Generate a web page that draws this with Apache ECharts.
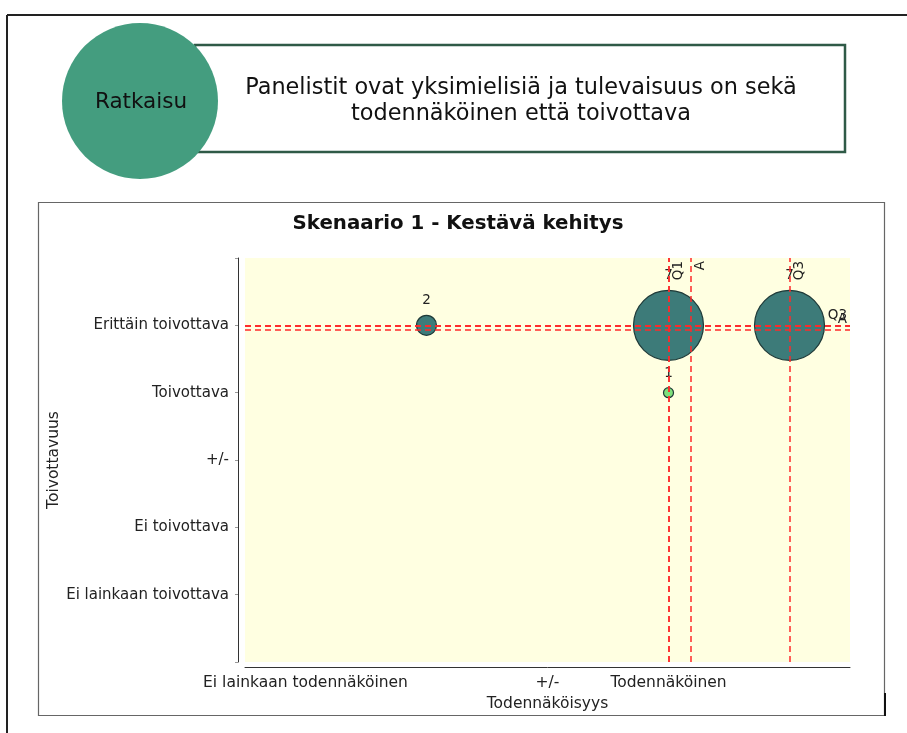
<!DOCTYPE html>
<html>
<head>
<meta charset="utf-8">
<title>Skenaario 1 - Kestävä kehitys</title>
<script src="https://cdn.jsdelivr.net/npm/echarts@6/dist/echarts.min.js"></script>
<style>
  html, body { margin: 0; padding: 0; background: #fff; }
  #chart { width: 907px; height: 733px; }
</style>
</head>
<body>
<div id="chart"></div>
<script>
// akselien luokat (tyhjä = piilotettu nimi)
var xLabels = ['Ei lainkaan todennäköinen', '', '+/-', 'Todennäköinen', ''];
var yLabels = ['Ei lainkaan toivottava', 'Ei toivottava', '+/-', 'Toivottava', 'Erittäin toivottava'];

// vastaukset: todennäköisyys, toivottavuus, lukumäärä
var answerX = [2, 4, 5, 4];
var answerY = [5, 5, 5, 4];
var answerCount = [2, 7, 7, 1];

// tunnusluvut (kvartiilit ja keskiarvo)
var statNames = ['Q1', 'Q2', 'Q3', 'A'];
var statX = [4, 4, 5, 4.18];
var statY = [5, 5, 5, 4.94];

var font = 'DejaVu Sans';

var bubbles = [];
for (var i = 0; i < answerX.length; i++) {
  bubbles.push([answerX[i], answerY[i], answerCount[i]]);
}

// päällekkäisistä viivoista näytetään vain yksi nimi
var lines = [];
for (var j = 0; j < statNames.length; j++) {
  var dupX = statX.indexOf(statX[j]) < j;
  var dupY = statY.lastIndexOf(statY[j]) > j;
  lines.push({ name: statNames[j], xAxis: statX[j], label: { show: !dupX, position: 'insideEndBottom' } });
  lines.push({ name: statNames[j], yAxis: statY[j], label: { show: !dupY, position: 'insideEndTop' } });
}

var chart = echarts.init(document.getElementById('chart'));

var option = {
  backgroundColor: '#fff',
  animation: false,
  title: {
    text: 'Skenaario 1 - Kestävä kehitys',
    left: 453,
    top: 209,
    textAlign: 'center',
    textStyle: { fontFamily: font, fontSize: 19.8, fontWeight: 'bold', color: '#111' }
  },
  graphic: [
    // sivun kehys
    { type: 'line', shape: { x1: 7, y1: 15, x2: 907, y2: 15 }, style: { stroke: '#222', lineWidth: 2 } },
    { type: 'line', shape: { x1: 7, y1: 15, x2: 7, y2: 733 }, style: { stroke: '#222', lineWidth: 2 } },
    // kaavion kehys
    { type: 'rect', shape: { x: 38.5, y: 202.5, width: 846, height: 513 }, style: { fill: null, stroke: '#666', lineWidth: 1.2 }, z: -1 },
    { type: 'line', shape: { x1: 885, y1: 693, x2: 885, y2: 716 }, style: { stroke: '#111', lineWidth: 2 } },
    // otsikkolaatikko
    { type: 'rect', shape: { x: 195, y: 45, width: 650, height: 107 }, style: { fill: '#fff', stroke: '#2f5a47', lineWidth: 2.5 } },
    { type: 'text', x: 521, y: 75, style: { text: 'Panelistit ovat yksimielisiä ja tulevaisuus on sekä\ntodennäköinen että toivottava', textAlign: 'center', textVerticalAlign: 'top', font: '22.4px "DejaVu Sans"', fill: '#111', lineHeight: 26 } },
    { type: 'circle', shape: { cx: 140, cy: 101, r: 78 }, style: { fill: '#449d7f' } },
    { type: 'text', x: 141, y: 102, style: { text: 'Ratkaisu', textAlign: 'center', textVerticalAlign: 'middle', font: '21.5px "DejaVu Sans"', fill: '#111' } }
  ],
  grid: {
    left: 245,
    right: 57,
    top: 258,
    bottom: 71,
    show: true,
    backgroundColor: '#ffffe1',
    borderWidth: 0
  },
  xAxis: [
    {
      type: 'value',
      min: 0.5,
      max: 5.5,
      show: false
    },
    {
      type: 'category',
      data: xLabels,
      position: 'bottom',
      offset: 5,
      boundaryGap: true,
      name: 'Todennäköisyys',
      nameLocation: 'middle',
      nameGap: 25,
      nameTextStyle: { fontFamily: font, fontSize: 15.5, color: '#222' },
      axisLine: { lineStyle: { color: '#333', width: 1 } },
      axisTick: { length: 4, lineStyle: { color: '#999' } },
      axisLabel: { interval: 0, margin: 8, fontFamily: font, fontSize: 15.5, color: '#222' },
      splitLine: { show: false }
    }
  ],
  yAxis: {
    type: 'value',
    min: 0,
    max: 6,
    interval: 1,
    offset: 7,
    name: 'Toivottavuus',
    nameLocation: 'middle',
    nameRotate: 90,
    nameGap: 176,
    nameMoveOverlap: false,
    nameTextStyle: { fontFamily: font, fontSize: 15.5, color: '#222' },
    axisLine: { show: true, lineStyle: { color: '#333', width: 1 } },
    axisTick: { show: true, length: 3, lineStyle: { color: '#999' } },
    axisLabel: {
      margin: 9,
      fontFamily: font,
      fontSize: 15,
      color: '#222',
      formatter: function (v) { return yLabels[v - 1] || ''; }
    },
    splitLine: { show: false }
  },
  series: [
    {
      type: 'scatter',
      xAxisIndex: 0,
      data: bubbles,
      symbolSize: function (d) { return d[2] * 10; },
      itemStyle: {
        color: function (p) { return p.data[2] < 2 ? '#7fe07c' : '#3d7b79'; },
        borderColor: '#1f3a38',
        borderWidth: 1.2,
        opacity: 1
      },
      label: {
        show: true,
        position: 'top',
        distance: 7,
        formatter: function (p) { return p.data[2]; },
        fontFamily: font,
        fontSize: 13.5,
        color: '#222'
      },
      z: 2
    },
    {
      type: 'scatter',
      xAxisIndex: 0,
      data: [],
      z: 5,
      markLine: {
        silent: true,
        symbol: 'none',
        animation: false,
        lineStyle: { color: '#ff2a2a', type: [6, 4], width: 1.5 },
        label: {
          show: true,
          formatter: '{b}',
          distance: 3,
          fontFamily: font,
          fontSize: 13.5,
          color: '#222'
        },
        data: lines
      }
    }
  ]
};

chart.setOption(option);
</script>
</body>
</html>
